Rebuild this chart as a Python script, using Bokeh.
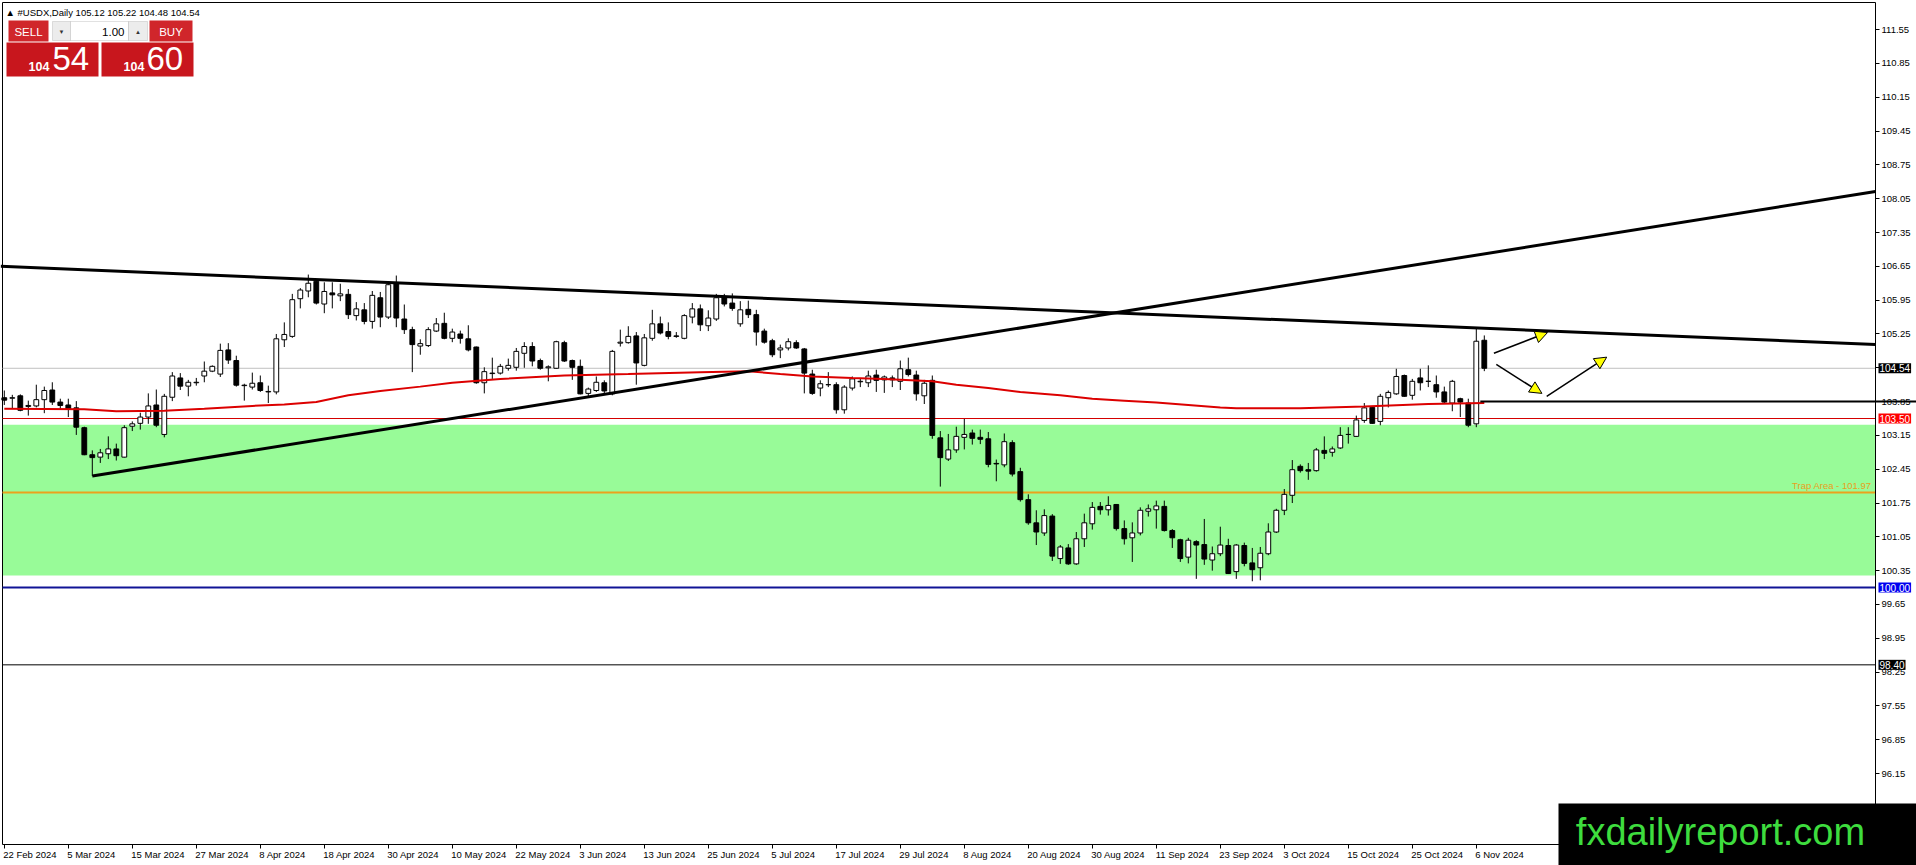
from bokeh.plotting import figure
from bokeh.models import (Range1d, FixedTicker, PrintfTickFormatter, BoxAnnotation,
                          Label, Arrow, NormalHead, ColumnDataSource)
from bokeh.embed import file_html
from bokeh.resources import INLINE

# ---------------- data ----------------
header_text = "\u25B2  #USDX,Daily  105.12 105.22 104.48 104.54"

open_ = [
    103.93, 103.92, 103.97, 103.75, 103.76, 103.89, 104.09, 103.84, 103.78, 103.72,
    103.31, 102.75, 102.70, 102.77, 102.87, 102.70, 103.34, 103.40, 103.53, 103.78,
    103.17, 103.94, 104.34, 104.17, 104.24, 104.38, 104.48, 104.42, 104.92, 104.70,
    104.18, 104.15, 104.24, 104.05, 104.05, 105.13, 105.20, 105.98, 106.14, 106.34,
    105.87, 106.10, 106.04, 106.07, 105.63, 105.75, 105.51, 106.00, 105.60, 106.29,
    105.56, 105.34, 105.00, 105.01, 105.31, 105.47, 105.16, 105.25, 105.15, 104.98,
    104.24, 104.43, 104.44, 104.54, 104.56, 104.85, 104.99, 104.70, 104.55, 104.54,
    105.07, 104.70, 104.58, 104.02, 104.08, 104.24, 104.01, 105.06, 105.07, 105.21,
    104.60, 105.16, 105.46, 105.30, 105.21, 105.16, 105.60, 105.77, 105.42, 105.56,
    106.00, 105.89, 105.46, 105.76, 105.65, 105.31, 105.11, 104.92, 104.96, 105.07,
    104.94, 104.42, 104.13, 104.20, 104.20, 103.68, 104.13, 104.26, 104.24, 104.40,
    104.30, 104.34, 104.27, 104.51, 104.40, 103.97, 104.29, 103.10, 102.66, 102.85,
    103.11, 103.20, 103.11, 103.08, 102.57, 102.54, 103.00, 102.40, 101.82, 101.34,
    101.13, 101.48, 100.60, 100.82, 100.49, 101.01, 101.32, 101.68, 101.61, 101.72,
    101.22, 101.03, 101.13, 101.58, 101.61, 101.68, 101.18, 100.99, 100.63, 100.95,
    100.89, 100.57, 100.70, 100.87, 100.33, 100.87, 100.51, 100.41, 100.70, 101.15,
    101.60, 101.91, 102.51, 102.44, 102.42, 102.84, 102.80, 102.89, 103.17, 103.13,
    103.46, 103.73, 103.44, 103.93, 104.01, 104.39, 103.98, 104.34, 104.27, 104.20,
    104.05, 103.82, 103.91, 103.82, 103.39, 105.12]

high = [
    104.08, 103.99, 104.00, 103.87, 104.20, 104.16, 104.25, 103.91, 103.91, 103.86,
    103.33, 102.84, 102.87, 103.13, 102.98, 103.36, 103.44, 103.62, 104.02, 104.10,
    104.01, 104.46, 104.44, 104.30, 104.34, 104.68, 104.60, 105.05, 105.06, 104.80,
    104.22, 104.45, 104.39, 104.18, 105.25, 105.49, 106.08, 106.20, 106.48, 106.39,
    106.32, 106.32, 106.29, 106.18, 105.91, 105.89, 106.14, 106.12, 106.34, 106.46,
    105.86, 105.40, 105.14, 105.39, 105.58, 105.69, 105.36, 105.32, 105.43, 104.99,
    104.56, 104.76, 104.63, 104.74, 104.96, 105.08, 105.08, 104.74, 104.60, 105.11,
    105.11, 104.72, 104.72, 104.14, 104.37, 104.29, 104.92, 105.34, 105.41, 105.29,
    105.25, 105.75, 105.61, 105.49, 105.29, 105.66, 105.89, 105.86, 105.74, 106.08,
    106.08, 106.09, 105.93, 105.94, 105.75, 105.36, 105.15, 105.03, 105.16, 105.12,
    104.96, 104.51, 104.29, 104.46, 104.25, 104.19, 104.37, 104.32, 104.49, 104.51,
    104.39, 104.39, 104.70, 104.76, 104.49, 104.30, 104.39, 103.24, 103.18, 103.33,
    103.49, 103.27, 103.27, 103.22, 102.65, 103.19, 103.05, 102.48, 101.93, 101.60,
    101.62, 101.52, 100.88, 100.90, 101.15, 101.53, 101.77, 101.77, 101.89, 101.73,
    101.39, 101.35, 101.66, 101.72, 101.80, 101.80, 101.21, 101.01, 101.03, 100.98,
    101.42, 100.85, 101.26, 101.01, 100.90, 100.93, 100.82, 100.84, 101.33, 101.63,
    102.04, 102.64, 102.55, 102.58, 102.89, 103.13, 102.92, 103.32, 103.32, 103.56,
    103.82, 103.76, 104.01, 104.08, 104.53, 104.41, 104.32, 104.53, 104.60, 104.39,
    104.16, 104.30, 103.93, 103.91, 105.36, 105.22]

low = [
    103.78, 103.71, 103.65, 103.56, 103.73, 103.61, 103.78, 103.70, 103.53, 103.16,
    102.74, 102.31, 102.58, 102.66, 102.63, 102.69, 103.24, 103.27, 103.39, 103.32,
    103.11, 103.86, 104.09, 103.96, 104.18, 104.25, 104.46, 104.36, 104.63, 104.16,
    103.87, 104.10, 104.05, 103.82, 104.00, 104.98, 105.17, 105.78, 106.01, 105.86,
    105.68, 105.78, 105.93, 105.56, 105.53, 105.45, 105.36, 105.39, 105.56, 105.39,
    105.25, 104.46, 104.82, 104.98, 105.29, 105.14, 105.08, 105.05, 104.89, 104.22,
    104.02, 104.32, 104.41, 104.49, 104.49, 104.55, 104.58, 104.51, 104.27, 104.53,
    104.67, 104.30, 104.00, 103.96, 104.05, 104.01, 103.98, 104.99, 105.05, 104.20,
    104.58, 105.11, 105.24, 105.14, 105.17, 105.14, 105.47, 105.31, 105.31, 105.52,
    105.82, 105.73, 105.40, 105.58, 105.01, 105.05, 104.77, 104.75, 104.91, 104.94,
    104.02, 103.99, 103.96, 104.15, 103.60, 103.60, 104.08, 104.15, 104.15, 104.05,
    104.03, 104.15, 104.09, 104.37, 103.87, 103.80, 103.08, 102.09, 102.62, 102.79,
    102.86, 102.96, 102.97, 102.49, 102.20, 102.49, 102.30, 101.78, 101.30, 100.88,
    101.07, 100.55, 100.49, 100.47, 100.47, 100.84, 101.20, 101.51, 101.49, 101.18,
    100.89, 100.53, 101.08, 101.47, 101.22, 101.16, 100.82, 100.53, 100.50, 100.18,
    100.47, 100.35, 100.65, 100.28, 100.18, 100.44, 100.13, 100.15, 100.67, 101.13,
    101.50, 101.75, 102.38, 102.23, 102.40, 102.66, 102.71, 102.87, 102.98, 103.12,
    103.41, 103.39, 103.36, 103.73, 103.99, 103.95, 103.89, 104.08, 104.15, 103.93,
    103.82, 103.65, 103.53, 103.32, 103.32, 104.48]

close = [
    103.88, 103.93, 103.67, 103.77, 103.89, 104.08, 103.84, 103.77, 103.70, 103.32,
    102.75, 102.69, 102.79, 102.87, 102.73, 103.31, 103.39, 103.53, 103.76, 103.36,
    103.96, 104.38, 104.17, 104.25, 104.25, 104.48, 104.58, 104.91, 104.71, 104.19,
    104.19, 104.23, 104.08, 104.06, 105.15, 105.24, 105.96, 106.16, 106.30, 105.89,
    106.13, 106.06, 106.08, 105.65, 105.77, 105.51, 106.05, 105.60, 106.27, 105.58,
    105.34, 105.03, 105.05, 105.34, 105.46, 105.16, 105.29, 105.16, 104.92, 104.24,
    104.47, 104.44, 104.58, 104.60, 104.89, 104.99, 104.69, 104.54, 104.57, 105.09,
    104.69, 104.56, 104.01, 104.11, 104.25, 104.07, 104.89, 105.08, 105.20, 104.65,
    105.17, 105.46, 105.27, 105.20, 105.20, 105.63, 105.77, 105.44, 105.58, 106.00,
    105.87, 105.78, 105.75, 105.65, 105.29, 105.08, 104.82, 104.96, 105.09, 104.96,
    104.44, 104.02, 104.22, 104.20, 103.68, 104.15, 104.32, 104.27, 104.38, 104.29,
    104.36, 104.30, 104.53, 104.41, 104.01, 104.23, 103.15, 102.69, 102.85, 103.13,
    103.17, 103.09, 103.07, 102.55, 102.56, 103.02, 102.35, 101.82, 101.34, 101.15,
    101.49, 100.65, 100.84, 100.49, 101.01, 101.34, 101.66, 101.61, 101.70, 101.22,
    101.01, 101.13, 101.60, 101.63, 101.69, 101.18, 101.03, 100.60, 100.98, 100.88,
    100.59, 100.70, 100.88, 100.29, 100.88, 100.50, 100.37, 100.71, 101.15, 101.60,
    101.93, 102.44, 102.42, 102.41, 102.85, 102.78, 102.87, 103.15, 103.17, 103.47,
    103.72, 103.40, 103.96, 104.04, 104.37, 103.96, 104.27, 104.24, 104.27, 104.05,
    103.84, 104.27, 103.84, 103.36, 105.10, 104.54]

# moving average (red line) sampled at bar indices
ma_idx = [0, 10, 14, 20, 25, 31, 35, 39, 43, 47, 52, 56, 62, 70, 78, 87, 93, 97,
          101, 106, 110, 116, 119, 123, 127, 132, 136, 140, 144, 148, 152, 154,
          162, 170, 178, 185]
ma_val = [103.70, 103.69, 103.65, 103.66, 103.70, 103.76, 103.79, 103.84, 103.98,
          104.07, 104.16, 104.24, 104.32, 104.39, 104.42, 104.46, 104.48, 104.42,
          104.37, 104.34, 104.32, 104.27, 104.20, 104.13, 104.05, 103.98, 103.91,
          103.87, 103.83, 103.78, 103.73, 103.71, 103.71, 103.75, 103.80, 103.82]

# trend lines (anchor points, bar index / price)
desc_x = [-0.45, 233.9]
desc_y = [106.65, 105.03]
asc_x = [11.0, 233.9]
asc_y = [102.31, 108.20]

# horizontal levels
bid_price = 104.54
red_level = 103.50
trap_level = 101.97
blue_level = 100.00
low_level = 98.40
zone_top, zone_bottom = 103.37, 100.25
hline_start, hline_price = 184.5, 103.85

# arrows (tail -> tip)
arrow_x0 = [186.2, 186.5, 192.8]
arrow_y0 = [104.85, 104.62, 103.96]
arrow_x1 = [192.9, 192.2, 200.3]
arrow_y1 = [105.28, 104.02, 104.77]

# axis ticks
y_ticks = [96.15, 96.85, 97.55, 98.25, 98.95, 99.65, 100.35, 101.05, 101.75, 102.45,
           103.15, 103.85, 104.55, 105.25, 105.95, 106.65, 107.35, 108.05, 108.75,
           109.45, 110.15, 110.85, 111.55]
date_labels = ["22 Feb 2024", "5 Mar 2024", "15 Mar 2024", "27 Mar 2024", "8 Apr 2024",
               "18 Apr 2024", "30 Apr 2024", "10 May 2024", "22 May 2024", "3 Jun 2024",
               "13 Jun 2024", "25 Jun 2024", "5 Jul 2024", "17 Jul 2024", "29 Jul 2024",
               "8 Aug 2024", "20 Aug 2024", "30 Aug 2024", "11 Sep 2024", "23 Sep 2024",
               "3 Oct 2024", "15 Oct 2024", "25 Oct 2024", "6 Nov 2024"]
label_idx = [0, 8, 16, 24, 32, 40, 48, 56, 64, 72, 80, 88, 96, 104, 112, 120, 128,
             136, 144, 152, 160, 168, 176, 184]

# ---------------- layout / style ----------------
W, H = 1916, 865
FONT = "Liberation Sans"
TICK_FS = 9.5
BAR0_PX, BAR_PX = 3.8, 8.0                 # pixel x of bar 0, pixel spacing per bar
REF_PRICE, REF_PY, PX_PER_PT = 103.5, 418.0, 48.3
CH_L, CH_T, CH_R, CH_B = 2, 2, 1875, 844   # chart window edges (pixels)


def X(px):
    return (px - BAR0_PX) / BAR_PX


def Y(py):
    return REF_PRICE + (REF_PY - py) / PX_PER_PT


p = figure(width=W, height=H,
           x_range=Range1d(X(0), X(W)), y_range=Range1d(Y(H), Y(0)),
           y_axis_location="right", toolbar_location=None, output_backend="svg",
           min_border=0, min_border_left=0, min_border_top=0, min_border_right=0,
           min_border_bottom=0, background_fill_color="white", border_fill_color="white")
p.xgrid.visible = False
p.ygrid.visible = False
p.outline_line_color = None

# right price axis, pinned to the chart's right edge
ya = p.yaxis[0]
ya.fixed_location = X(CH_R)
ya.bounds = (Y(CH_B), Y(CH_T))
ya.ticker = FixedTicker(ticks=y_ticks)
ya.formatter = PrintfTickFormatter(format="%.2f")
ya.major_tick_out = 4
ya.major_tick_in = 0
ya.minor_tick_out = 0
ya.minor_tick_in = 0
ya.major_label_standoff = 2
ya.axis_line_color = "black"
ya.major_tick_line_color = "black"
ya.major_label_text_font = FONT
ya.major_label_text_font_size = f"{TICK_FS}px"
ya.major_label_text_color = "black"

# bottom date axis, labels to the right of each tick (MT4 style)
CW = {' ': 278, 'F': 611, 'M': 833, 'A': 667, 'J': 500, 'S': 667, 'O': 778, 'N': 722,
      'a': 556, 'b': 556, 'e': 556, 'r': 333, 'p': 556, 'y': 500, 'u': 556, 'n': 556,
      'l': 222, 'g': 556, 'c': 500, 't': 278, 'o': 556, 'v': 500}


def text_w(s, fs):
    return sum(CW.get(ch, 556) for ch in s) / 1000.0 * fs


centers = []
for i, lbl in zip(label_idx, date_labels):
    c = round(i + (text_w(lbl, TICK_FS) / 2 - 1.0) / BAR_PX, 3)
    if abs(c - round(c)) < 1e-6:
        c += 0.001
    centers.append(c)

xa = p.xaxis[0]
xa.fixed_location = Y(CH_B)
xa.bounds = (X(CH_L), X(CH_R))
xa.ticker = FixedTicker(ticks=centers, minor_ticks=label_idx)
xa.major_label_overrides = dict(zip(centers, date_labels))
xa.major_tick_out = 0
xa.major_tick_in = 0
xa.minor_tick_out = 4
xa.minor_tick_in = 0
xa.minor_tick_line_color = "black"
xa.major_label_standoff = 0
xa.axis_line_color = "black"
xa.major_label_text_font = FONT
xa.major_label_text_font_size = f"{TICK_FS}px"
xa.major_label_text_color = "black"

# support zone (behind everything)
p.add_layout(BoxAnnotation(left=X(CH_L), right=X(CH_R), bottom=zone_bottom, top=zone_top,
                           fill_color="#98FB98", fill_alpha=1.0, line_color=None,
                           level="underlay"))

# chart window border (left / top)
p.segment(x0=[X(CH_L), X(CH_L)], y0=[Y(CH_T), Y(CH_T)], x1=[X(CH_L), X(CH_R)],
          y1=[Y(CH_B), Y(CH_T)], line_color="black", line_width=1)

# horizontal levels
for lvl, col, lw in [(bid_price, "#C0C0C0", 1), (red_level, "#D40000", 1),
                     (trap_level, "#EBA21C", 2), (blue_level, "#101496", 2),
                     (low_level, "black", 1)]:
    p.segment(x0=[X(CH_L)], y0=[lvl], x1=[X(CH_R)], y1=[lvl], line_color=col, line_width=lw)

# candles
idx = list(range(len(open_)))
up = [i for i in idx if close[i] >= open_[i]]
dn = [i for i in idx if close[i] < open_[i]]
wick_src = ColumnDataSource(dict(x=idx, lo=low, hi=high))
up_src = ColumnDataSource(dict(x=up, top=[close[i] for i in up], bot=[open_[i] for i in up]))
dn_src = ColumnDataSource(dict(x=dn, top=[open_[i] for i in dn], bot=[close[i] for i in dn]))
p.segment(x0="x", y0="lo", x1="x", y1="hi", source=wick_src, line_color="black", line_width=1)
p.vbar(x="x", width=0.6, top="top", bottom="bot", source=up_src,
       fill_color="white", line_color="black", line_width=1)
p.vbar(x="x", width=0.6, top="top", bottom="bot", source=dn_src,
       fill_color="black", line_color="black", line_width=1)

# moving average and drawn objects
p.line(ma_idx, ma_val, line_color="#DC0000", line_width=2)
p.line(desc_x, desc_y, line_color="black", line_width=3)
p.line(asc_x, asc_y, line_color="black", line_width=3)
p.segment(x0=[hline_start], y0=[hline_price], x1=[X(W)], y1=[hline_price],
          line_color="black", line_width=2)

for xs, ys, xe, ye in zip(arrow_x0, arrow_y0, arrow_x1, arrow_y1):
    p.add_layout(Arrow(end=NormalHead(size=12, fill_color="#FFFF00", line_color="black",
                                      line_width=1),
                       x_start=xs, y_start=ys, x_end=xe, y_end=ye,
                       line_color="black", line_width=1.5))

# trap area text
p.add_layout(Label(x=X(CH_R), y=trap_level, x_offset=-4, y_offset=1,
                   text="Trap Area - 101.97", text_align="right", text_baseline="bottom",
                   text_font=FONT, text_font_size="9.5px", text_color="#E8A020"))

# price tags on the axis
for price, bg in [(bid_price, "black"), (red_level, "#FF0000"),
                  (blue_level, "#0000F0"), (low_level, "black")]:
    p.add_layout(Label(x=X(CH_R + 3), y=price, text=f"{price:.2f}",
                       text_align="left", text_baseline="middle", text_font=FONT,
                       text_font_size="10px", text_color="white",
                       background_fill_color=bg, background_fill_alpha=1.0, padding=1))

# header
p.add_layout(Label(x=X(5), y=Y(12), text=header_text, text_align="left",
                   text_baseline="middle", text_font=FONT, text_font_size="9.5px",
                   text_color="black"))

# one-click trading panel
RED = "#C8161D"
BTN = "#D0262B"
for l, r, t, b, c in [(8, 48, 20, 41, BTN), (149, 192, 20, 41, BTN),
                      (6, 98, 42, 76, RED), (101, 193, 42, 76, RED)]:
    p.add_layout(BoxAnnotation(left=X(l), right=X(r), top=Y(t), bottom=Y(b),
                               fill_color=c, fill_alpha=1.0, line_color=None))
for l, r, c in [(52, 70, "#ECECEC"), (70, 128, "white"), (128, 147, "#ECECEC")]:
    p.add_layout(BoxAnnotation(left=X(l), right=X(r), top=Y(21), bottom=Y(40),
                               fill_color=c, fill_alpha=1.0, line_color="#9A9A9A",
                               line_width=1))
for x, txt, fs, col, al in [(28, "SELL", "11.5px", "white", "center"),
                            (170.5, "BUY", "11.5px", "white", "center"),
                            (61, "\u25BC", "6px", "#333333", "center"),
                            (137.5, "\u25B2", "6px", "#333333", "center"),
                            (124, "1.00", "11.5px", "black", "right")]:
    p.add_layout(Label(x=X(x), y=Y(31), text=txt, text_align=al, text_baseline="middle",
                       text_font=FONT, text_font_size=fs, text_color=col))
for x, yy, txt, fs, st in [(28, 66, "104", "12.5px", "bold"), (52, 58, "54", "33px", "normal"),
                           (123, 66, "104", "12.5px", "bold"), (146, 58, "60", "33px", "normal")]:
    p.add_layout(Label(x=X(x), y=Y(yy), text=txt, text_align="left",
                       text_baseline="middle", text_font=FONT, text_font_size=fs,
                       text_font_style=st, text_color="white"))

# watermark box
p.add_layout(BoxAnnotation(left=X(1558), right=X(W + 10), top=Y(803), bottom=Y(H + 10),
                           fill_color="black", fill_alpha=1.0, line_color=None))
p.add_layout(Label(x=X(1720), y=Y(831), text="fxdailyreport.com", text_align="center",
                   text_baseline="middle", text_font=FONT, text_font_size="38px",
                   text_color="#3EDC3E"))

open("out.html", "w").write(file_html(p, INLINE))
